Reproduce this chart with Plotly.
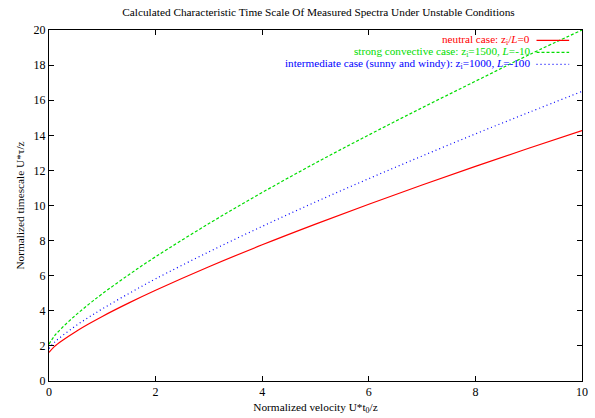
import plotly.graph_objects as go

# Normalized velocity U*t0/z
velocity = [0, 0.1, 0.25, 0.5, 0.75, 1, 1.5, 2, 3, 4, 5, 6, 7, 8, 9, 10]

# Normalized timescale U*tau/z for each stability case
neutral = [1.63, 1.96, 2.31, 2.81, 3.26, 3.68, 4.45, 5.17, 6.51, 7.76, 8.94, 10.07, 11.17, 12.23, 13.26, 14.27]
convective = [2.10, 2.56, 3.05, 3.75, 4.38, 4.97, 6.06, 7.08, 8.97, 10.74, 12.42, 14.02, 15.57, 17.08, 18.58, 20.00]
intermediate = [1.85, 2.20, 2.58, 3.14, 3.64, 4.11, 4.99, 5.82, 7.36, 8.81, 10.20, 11.53, 12.82, 14.08, 15.30, 16.50]

x_ticks = [0, 2, 4, 6, 8, 10]
y_ticks = [0, 2, 4, 6, 8, 10, 12, 14, 16, 18, 20]

series = [
    ("neutral case: z<sub>i</sub>/<i>L</i>=0", neutral, "#ff0000", "solid"),
    ("strong convective case: z<sub>i</sub>=1500, <i>L</i>=-10", convective, "#00dd00", "3px,2px"),
    ("intermediate case (sunny and windy): z<sub>i</sub>=1000, <i>L</i>=-100", intermediate, "#0000ff", "1px,3px"),
]

FONT = "Liberation Serif, Times New Roman, serif"

fig = go.Figure()
for name, ys, color, dash in series:
    fig.add_trace(go.Scatter(
        x=velocity, y=ys, mode="lines", name=name, line_shape="spline",
        line=dict(color=color, width=1.2, dash=dash), showlegend=False,
    ))

# Key in the upper right: right-aligned text followed by a line sample
W, H = 595, 418
l, r, t, b = 49, 7, 30, 35
pw, ph = W - l - r, H - t - b
rows_y = [40.5, 52.5, 64.5]
text_right = 536
sample_x0, sample_x1 = 542, 575
for (name, ys, color, dash), yp in zip(series, rows_y):
    fy = 1 - (yp - t) / ph
    fig.add_annotation(
        x=(text_right - l) / pw, y=fy, xref="paper", yref="paper",
        text=name, showarrow=False, xanchor="right", yanchor="middle",
        font=dict(family=FONT, size=11.2, color=color), bgcolor="rgba(0,0,0,0)",
        borderpad=0,
    )
    fig.add_shape(
        type="line", xref="paper", yref="paper",
        x0=(sample_x0 - l) / pw, x1=(sample_x1 - l) / pw, y0=fy, y1=fy,
        line=dict(color=color, width=1.2, dash=dash),
    )

fig.update_layout(
    width=W, height=H,
    margin=dict(l=l, r=r, t=t, b=b),
    paper_bgcolor="white", plot_bgcolor="white",
    font=dict(family=FONT, size=12, color="black"),
    title=dict(
        text="Calculated Characteristic Time Scale Of Measured Spectra Under Unstable Conditions",
        x=(l + pw / 2) / W, xanchor="center", y=1 - 12 / H, yanchor="middle",
        font=dict(family=FONT, size=11.3, color="black"),
    ),
    xaxis=dict(
        range=[0, 10], tickvals=x_ticks, ticks="inside", ticklen=5, tickcolor="black",
        showline=True, linecolor="black", linewidth=1, mirror="allticks",
        showgrid=False, zeroline=False,
        title=dict(text="Normalized velocity U*t<sub>0</sub>/z", standoff=4,
                   font=dict(family=FONT, size=11.3)),
        tickfont=dict(family=FONT, size=12),
    ),
    yaxis=dict(
        range=[0, 20], tickvals=y_ticks, ticks="inside", ticklen=5, tickcolor="black",
        showline=True, linecolor="black", linewidth=1, mirror="allticks",
        showgrid=False, zeroline=False,
        title=dict(text="Normalized timescale U*τ/z", standoff=6,
                   font=dict(family=FONT, size=11.3)),
        tickfont=dict(family=FONT, size=12),
    ),
)

fig.write_html("out.html")
